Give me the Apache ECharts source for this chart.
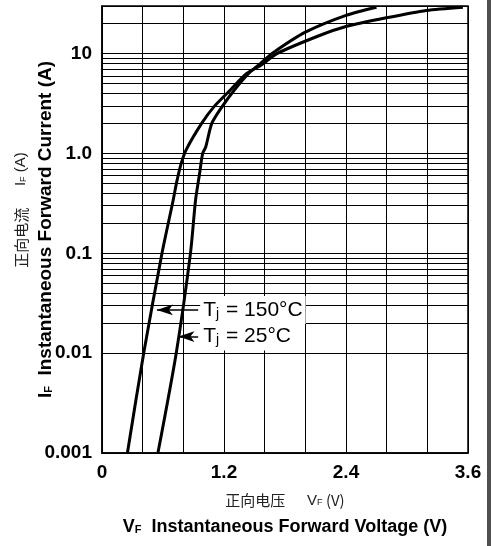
<!DOCTYPE html>
<html>
<head>
<meta charset="utf-8">
<script src="https://cdn.jsdelivr.net/npm/echarts@6/dist/echarts.min.js"></script>
<style>
html, body { margin: 0; padding: 0; background: #fff; }
#chart { width: 491px; height: 546px; }
</style>
</head>
<body>
<div id="chart"></div>
<script>
// 正向特性曲线数据 (VF, IF)
var vf150 = [0.25, 0.41, 0.59, 0.70, 0.735, 0.78, 0.83, 0.98, 1.10, 1.26, 1.42, 1.56, 1.72, 2.14, 2.40, 2.80, 3.19, 3.55];
var if150 = [0.001, 0.01, 0.1, 0.34, 0.52, 0.8, 1.1, 2.0, 2.93, 4.3, 6.3, 7.6, 10, 15.2, 18.7, 22.9, 27.1, 29.2];
var vf25 = [0.55, 0.73, 0.87, 0.92, 0.96, 0.99, 1.02, 1.08, 1.18, 1.30, 1.44, 1.56, 1.67, 2.00, 2.40, 2.70];
var if25 = [0.001, 0.01, 0.1, 0.34, 0.63, 1.0, 1.16, 2.0, 2.93, 4.3, 6.3, 8.0, 10, 16.4, 24.2, 29.2];

// 刻度
var xLabelValues = [0, 1.2, 2.4, 3.6];
var yLabelTexts = { '-3': '0.001', '-2': '0.01', '-1': '0.1', '0': '1.0', '1': '10' };
var decades = [0.001, 0.01, 0.1, 1, 10];
var minorSteps = [2, 3, 4, 5, 6, 7, 8, 9];

// 箭头标注 [起点, 终点]
var arrow150 = [[0.946, 0.0271], [0.540, 0.0271]];
var arrow25 = [[0.946, 0.01466], [0.752, 0.01466]];

function pairs(xs, ys) {
    return xs.map(function (x, i) { return [x, ys[i]]; });
}

var minorLines = [];
decades.forEach(function (d) {
    minorSteps.forEach(function (s) {
        var v = d * s;
        if (v < 30) minorLines.push({ yAxis: v });
    });
});

var font = 'Liberation Sans, Arial, sans-serif';
var cnFont = 'Noto Sans CJK SC, sans-serif';

var myChart = echarts.init(document.getElementById('chart'), null, { renderer: 'canvas' });

function arrowLabel(text) {
    return {
        show: true,
        position: 'start',
        distance: 2,
        formatter: text,
        backgroundColor: '#fff',
        padding: [2, 3],
        rich: {
            t: { fontFamily: font, fontSize: 21, color: '#000', lineHeight: 24 },
            s: { fontFamily: font, fontSize: 14, color: '#000', lineHeight: 14, padding: [8, 1, 0, 0] }
        }
    };
}

var option = {
    animation: false,
    backgroundColor: '#fff',
    grid: {
        left: 102, right: 23, top: 6, bottom: 93,
        show: true, borderColor: '#000', borderWidth: 1.5,
        outerBoundsMode: 'none'
    },
    xAxis: {
        type: 'value',
        min: 0, max: 3.6, interval: 0.4,
        axisLine: { show: true, lineStyle: { color: '#000', width: 1.5 } },
        axisTick: { show: false },
        splitLine: { show: true, lineStyle: { color: '#000', width: 1 } },
        axisLabel: {
            margin: 10,
            fontFamily: font, fontSize: 19, fontWeight: 'bold', color: '#000',
            formatter: function (v) {
                for (var i = 0; i < xLabelValues.length; i++) {
                    if (Math.abs(v - xLabelValues[i]) < 1e-6) return v === 0 ? '0' : xLabelValues[i].toFixed(1);
                }
                return '';
            }
        },
        name: '{cn|正向电压　  }{v|V}{vs|F}{cn| (V)}\n{b|V}{bs|F}{b|  Instantaneous Forward Voltage (V)}',
        nameLocation: 'middle',
        nameGap: 34,
        nameMoveOverlap: false,
        nameTextStyle: {
            rich: {
                cn: { fontFamily: cnFont, fontSize: 15, color: '#222', lineHeight: 27 },
                v: { fontFamily: font, fontSize: 15, color: '#222', lineHeight: 27 },
                vs: { fontFamily: font, fontSize: 9, color: '#222', lineHeight: 9, padding: [5, 0, 0, 0] },
                b: { fontFamily: font, fontSize: 18, fontWeight: 'bold', color: '#000', lineHeight: 27 },
                bs: { fontFamily: font, fontSize: 11, fontWeight: 'bold', color: '#000', lineHeight: 11, padding: [5, 0, 0, 0] }
            }
        }
    },
    yAxis: {
        type: 'log',
        logBase: 10,
        min: 0.001, max: 30,
        axisLine: { show: true, lineStyle: { color: '#000', width: 1.5 } },
        axisTick: { show: false },
        splitLine: { show: true, lineStyle: { color: '#000', width: 1 } },
        axisLabel: {
            margin: 10,
            fontFamily: font, fontSize: 19, fontWeight: 'bold', color: '#000',
            formatter: function (v) {
                var l = Math.log10(v);
                var e = Math.round(l);
                if (Math.abs(l - e) > 1e-6) return '';
                return yLabelTexts[String(e)] || '';
            }
        },
        name: '{b|I}{bs|F}{b|  Instantaneous Forward Current (A)}',
        nameLocation: 'middle',
        nameGap: 44,
        nameMoveOverlap: false,
        nameTextStyle: {
            rich: {
                b: { fontFamily: font, fontSize: 19, fontWeight: 'bold', color: '#000', lineHeight: 24 },
                bs: { fontFamily: font, fontSize: 11, fontWeight: 'bold', color: '#000', lineHeight: 11, padding: [5, 0, 0, 0] }
            }
        }
    },
    graphic: [
        {
            type: 'text',
            x: 21, y: 210,
            rotation: Math.PI / 2,
            style: {
                text: '{cn|正向电流　  }{v|I}{vs|F}{v| (A)}',
                align: 'center',
                verticalAlign: 'middle',
                rich: {
                    cn: { fontFamily: cnFont, fontSize: 15, fill: '#222', lineHeight: 20 },
                    v: { fontFamily: font, fontSize: 15, fill: '#222', lineHeight: 20 },
                    vs: { fontFamily: font, fontSize: 9, fill: '#222', lineHeight: 9, padding: [5, 0, 0, 0] }
                }
            }
        },
        {
            type: 'rect',
            shape: { x: 487, y: 0, width: 4, height: 546 },
            style: { fill: '#505050' },
            silent: true
        }
    ],
    series: [
        {
            // 对数网格的次分线
            type: 'line',
            data: [],
            z: 1,
            silent: true,
            markLine: {
                silent: true,
                symbol: ['none', 'none'],
                label: { show: false },
                lineStyle: { color: '#000', width: 1, type: 'solid' },
                data: minorLines
            }
        },
        {
            name: 'Tj = 150°C',
            type: 'line',
            data: pairs(vf150, if150),
            showSymbol: false,
            smooth: 0.25,
            z: 3,
            lineStyle: { color: '#000', width: 3 }
        },
        {
            name: 'Tj = 25°C',
            type: 'line',
            data: pairs(vf25, if25),
            showSymbol: false,
            smooth: 0.25,
            z: 3,
            lineStyle: { color: '#000', width: 3 }
        },
        {
            type: 'line',
            data: [],
            z: 5,
            silent: true,
            markLine: {
                silent: true,
                symbol: ['none', 'arrow'],
                symbolSize: [8, 16],
                lineStyle: { color: '#000', width: 1.5, type: 'solid' },
                data: [
                    [
                        { coord: arrow150[0], label: arrowLabel('{t|T}{s|j}{t| = 150°C}') },
                        { coord: arrow150[1] }
                    ],
                    [
                        { coord: arrow25[0], label: arrowLabel('{t|T}{s|j}{t| = 25°C}') },
                        { coord: arrow25[1] }
                    ]
                ]
            }
        }
    ]
};

myChart.setOption(option);
</script>
</body>
</html>
